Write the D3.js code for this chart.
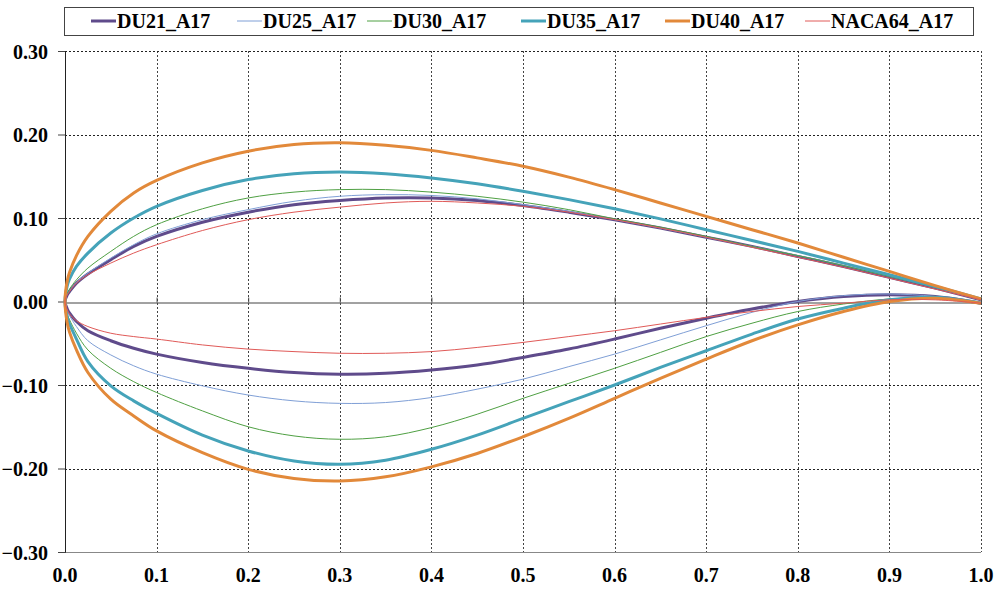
<!DOCTYPE html>
<html>
<head>
<meta charset="utf-8">
<script src="https://cdn.jsdelivr.net/npm/d3@7"></script>
<style>
	body { margin: 0; background: #fff; }
	text { font-family: "Liberation Serif", "Times New Roman", serif; font-weight: bold; fill: #000; }
</style>
</head>
<body>
<svg id="chart" width="998" height="589"></svg>
<script>
// chord stations shared by every airfoil (upper and lower surface)
var xs = [0, 0.0025, 0.005, 0.0125, 0.025, 0.05, 0.075, 0.1, 0.15, 0.2, 0.25, 0.3, 0.35, 0.4,
	0.45, 0.5, 0.55, 0.6, 0.65, 0.7, 0.75, 0.8, 0.85, 0.9, 0.95, 1.0];

var du21Upper = [0, 0.008, 0.012, 0.022, 0.033, 0.050, 0.066, 0.078, 0.095, 0.107, 0.116, 0.121, 0.124, 0.124,
	0.121, 0.115, 0.107, 0.098, 0.088, 0.077, 0.066, 0.054, 0.042, 0.029, 0.016, 0.002];
var du21Lower = [0, -0.009, -0.014, -0.024, -0.035, -0.047, -0.056, -0.063, -0.073, -0.080, -0.085, -0.087, -0.086, -0.082,
	-0.076, -0.067, -0.057, -0.045, -0.032, -0.020, -0.009, 0.000, 0.006, 0.008, 0.006, -0.002];

var du25Upper = [0, 0.009, 0.013, 0.023, 0.034, 0.052, 0.068, 0.081, 0.098, 0.110, 0.120, 0.126, 0.128, 0.127,
	0.123, 0.116, 0.108, 0.098, 0.088, 0.077, 0.066, 0.055, 0.043, 0.030, 0.017, 0.003];
var du25Lower = [0, -0.011, -0.017, -0.030, -0.047, -0.064, -0.077, -0.087, -0.101, -0.112, -0.119, -0.122, -0.121, -0.115,
	-0.105, -0.093, -0.078, -0.063, -0.046, -0.029, -0.013, 0.000, 0.007, 0.009, 0.006, -0.002];

var du30Upper = [0, 0.010, 0.015, 0.026, 0.040, 0.060, 0.078, 0.092, 0.111, 0.124, 0.131, 0.134, 0.134, 0.131,
	0.126, 0.119, 0.110, 0.099, 0.089, 0.078, 0.066, 0.055, 0.043, 0.030, 0.017, 0.003];
var du30Lower = [0, -0.015, -0.022, -0.038, -0.058, -0.080, -0.096, -0.109, -0.131, -0.150, -0.161, -0.165, -0.162, -0.151,
	-0.135, -0.116, -0.098, -0.080, -0.061, -0.042, -0.026, -0.012, -0.003, 0.003, 0.004, -0.002];

var du35Upper = [0, 0.019, 0.027, 0.042, 0.058, 0.082, 0.100, 0.114, 0.133, 0.146, 0.153, 0.155, 0.153, 0.148,
	0.141, 0.132, 0.122, 0.111, 0.099, 0.086, 0.073, 0.060, 0.046, 0.032, 0.018, 0.003];
var du35Lower = [0, -0.019, -0.027, -0.045, -0.072, -0.101, -0.119, -0.134, -0.160, -0.179, -0.191, -0.195, -0.190, -0.177,
	-0.160, -0.140, -0.120, -0.100, -0.079, -0.059, -0.039, -0.021, -0.008, 0.002, 0.005, -0.002];

var du40Upper = [0, 0.025, 0.035, 0.055, 0.078, 0.108, 0.130, 0.145, 0.166, 0.180, 0.188, 0.190, 0.187, 0.181,
	0.172, 0.162, 0.149, 0.134, 0.118, 0.102, 0.086, 0.070, 0.053, 0.036, 0.019, 0.003];
var du40Lower = [0, -0.026, -0.037, -0.058, -0.085, -0.117, -0.137, -0.155, -0.181, -0.201, -0.212, -0.215, -0.210, -0.198,
	-0.182, -0.162, -0.140, -0.116, -0.092, -0.069, -0.047, -0.028, -0.012, 0.000, 0.004, -0.002];

var naca64Upper = [0, 0.008, 0.012, 0.022, 0.032, 0.046, 0.058, 0.068, 0.085, 0.098, 0.107, 0.113, 0.118, 0.120,
	0.118, 0.114, 0.107, 0.098, 0.088, 0.077, 0.065, 0.053, 0.041, 0.028, 0.015, 0.002];
var naca64Lower = [0, -0.010, -0.015, -0.023, -0.030, -0.038, -0.042, -0.045, -0.052, -0.057, -0.060, -0.062, -0.062, -0.060,
	-0.055, -0.049, -0.042, -0.035, -0.027, -0.019, -0.012, -0.006, -0.002, 0.002, 0.002, -0.002];

var seriesNames = ["DU21_A17", "DU25_A17", "DU30_A17", "DU35_A17", "DU40_A17", "NACA64_A17"];
var upperValues = [du21Upper, du25Upper, du30Upper, du35Upper, du40Upper, naca64Upper];
var lowerValues = [du21Lower, du25Lower, du30Lower, du35Lower, du40Lower, naca64Lower];

var xTicks = [0, 0.1, 0.2, 0.3, 0.4, 0.5, 0.6, 0.7, 0.8, 0.9, 1.0];
var yTicks = [-0.30, -0.20, -0.10, 0.00, 0.10, 0.20, 0.30];

// styling per series
var colors = ["#5f4b8b", "#7f9fd6", "#4fa043", "#45a3b9", "#e2893a", "#e05a58"];
var widths = [3, 1, 1, 3, 3, 1];
var legendX = [91, 237, 367, 521, 665, 805];

var svg = d3.select("#chart"),
	plotL = 65, plotR = 981, plotT = 51, plotB = 552;

var x = d3.scaleLinear().domain([0, 1]).range([plotL, plotR]);
var y = d3.scaleLinear().domain([-0.3, 0.3]).range([plotB, plotT]);

// grid lines
var grid = svg.append("g");
grid.selectAll("line.v")
	.data(xTicks.filter(d => d > 0))
	.enter().append("line")
		.attr("class", "v")
		.attr("x1", d => Math.round(x(d)) + 0.5).attr("x2", d => Math.round(x(d)) + 0.5)
		.attr("y1", plotT).attr("y2", plotB)
		.attr("stroke", "#444").attr("stroke-width", 1)
		.attr("stroke-dasharray", "2,2");
grid.selectAll("line.h")
	.data(yTicks.filter(d => d != 0 && d != -0.3))
	.enter().append("line")
		.attr("class", "h")
		.attr("x1", plotL).attr("x2", plotR)
		.attr("y1", d => Math.round(y(d)) + 0.5).attr("y2", d => Math.round(y(d)) + 0.5)
		.attr("stroke", "#222").attr("stroke-width", 1)
		.attr("stroke-dasharray", "2,2");

// bottom border, zero line and value axis
svg.append("line")
	.attr("x1", plotL).attr("x2", plotR).attr("y1", y(-0.3) + 0.5).attr("y2", y(-0.3) + 0.5)
	.attr("stroke", "#888");
var xAxis = svg.append("g")
	.attr("transform", `translate(0,${Math.round(y(0)) + 0.5})`)
	.call(d3.axisTop(x).tickValues(xTicks).tickSize(5).tickFormat(""));
xAxis.select(".domain").attr("stroke", "#444");
xAxis.selectAll(".tick line").attr("stroke", "#444");

var yAxis = svg.append("g")
	.attr("transform", `translate(${plotL},0)`)
	.call(d3.axisLeft(y).tickValues(yTicks).tickSize(7).tickFormat(d3.format(".2f")));
yAxis.select(".domain").attr("stroke", "#222");
yAxis.selectAll(".tick line").attr("stroke", "#444");
yAxis.selectAll(".tick text")
	.attr("x", -17).attr("dy", "0.35em")
	.style("font-size", "20px").style("font-family", "Liberation Serif").style("font-weight", "bold");

// category labels along the bottom
svg.append("g").selectAll("text")
	.data(xTicks)
	.enter().append("text")
		.attr("x", d => x(d))
		.attr("y", 582)
		.attr("text-anchor", "middle")
		.style("font-size", "20px")
		.text(d3.format(".1f"));

// airfoil outlines: trailing edge -> upper -> leading edge -> lower -> trailing edge
var line = d3.line()
	.x(d => x(d[0]))
	.y(d => y(d[1]))
	.curve(d3.curveCatmullRom.alpha(0.5));

var outlines = seriesNames.map(function(name, i) {
	var pts = [];
	for (var k = xs.length - 1; k >= 0; k--) pts.push([xs[k], upperValues[i][k]]);
	for (var k = 1; k < xs.length; k++) pts.push([xs[k], lowerValues[i][k]]);
	return pts;
});

svg.append("g").selectAll("path")
	.data(outlines)
	.enter().append("path")
		.attr("d", line)
		.attr("fill", "none")
		.attr("stroke", (d, i) => colors[i])
		.attr("stroke-width", (d, i) => widths[i])
		.attr("stroke-linejoin", "round");

// legend
var legend = svg.append("g");
legend.append("rect")
	.attr("x", 64.5).attr("y", 7.5).attr("width", 909).attr("height", 28)
	.attr("fill", "#fff").attr("stroke", "#444");
var item = legend.selectAll("g")
	.data(seriesNames)
	.enter().append("g")
		.attr("transform", (d, i) => `translate(${legendX[i]},0)`);
item.append("line")
	.attr("x1", 0).attr("x2", 25).attr("y1", 21).attr("y2", 21)
	.attr("stroke", (d, i) => colors[i])
	.attr("stroke-width", (d, i) => widths[i]);
item.append("text")
	.attr("x", 26).attr("y", 28)
	.style("font-size", "20px")
	.text(d => d);
</script>
</body>
</html>
